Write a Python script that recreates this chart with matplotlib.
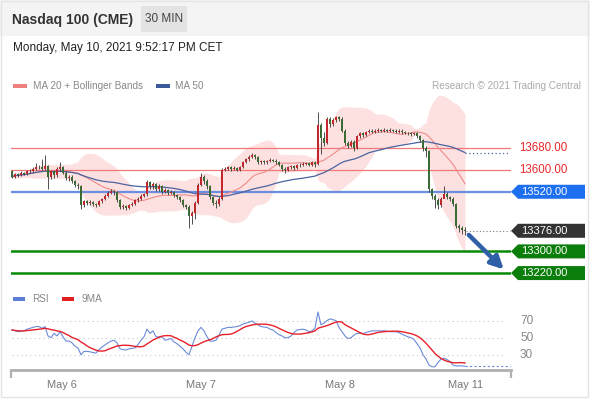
import pandas as pd
import matplotlib
matplotlib.use("Agg")
import matplotlib.pyplot as plt
from matplotlib.patches import Rectangle, Polygon, FancyArrowPatch
from matplotlib import transforms

plt.rcParams['font.family'] = ['Liberation Sans', 'DejaVu Sans']

# --- data (30 min bars, May 5 evening -> May 10 night) ---
first_open = 13598
closes = [13575, 13585, 13580, 13590, 13585, 13595, 13598, 13605, 13610, 13612,
          13605, 13615, 13575, 13595, 13580, 13605, 13612, 13590, 13570, 13575,
          13560, 13545, 13540, 13470, 13485, 13478, 13482, 13476, 13472, 13485,
          13492, 13505, 13515, 13522, 13518, 13490, 13462, 13468, 13460, 13470,
          13475, 13488, 13495, 13505, 13510, 13555, 13540, 13548, 13530, 13540,
          13520, 13528, 13515, 13520, 13508, 13500, 13490, 13470, 13465, 13430,
          13440, 13480, 13545, 13575, 13560, 13540, 13500, 13480, 13475, 13495,
          13600, 13605, 13610, 13605, 13608, 13602, 13610, 13630, 13640, 13650,
          13655, 13648, 13630, 13632, 13628, 13632, 13638, 13635, 13628, 13620,
          13605, 13600, 13610, 13615, 13608, 13618, 13620, 13622, 13625, 13620,
          13628, 13622, 13765, 13720, 13700, 13790, 13770, 13785, 13795, 13790,
          13745, 13700, 13690, 13705, 13680, 13725, 13735, 13730, 13740, 13745,
          13742, 13745, 13748, 13745, 13748, 13746, 13748, 13745, 13742, 13745,
          13740, 13738, 13735, 13732, 13735, 13725, 13710, 13680, 13670, 13530,
          13505, 13490, 13470, 13495, 13510, 13500, 13495, 13475, 13395, 13385,
          13380, 13376]
highs = [13602, 13590, 13590, 13595, 13594, 13600, 13604, 13610, 13625, 13620,
         13640, 13655, 13620, 13602, 13600, 13610, 13630, 13615, 13595, 13582,
         13580, 13565, 13552, 13545, 13490, 13490, 13488, 13486, 13480, 13490,
         13498, 13510, 13522, 13530, 13528, 13522, 13494, 13475, 13472, 13476,
         13482, 13492, 13500, 13510, 13516, 13565, 13560, 13556, 13552, 13548,
         13545, 13535, 13532, 13528, 13524, 13512, 13505, 13494, 13476, 13470,
         13448, 13486, 13552, 13590, 13580, 13566, 13545, 13506, 13488, 13500,
         13608, 13612, 13615, 13614, 13614, 13612, 13616, 13635, 13646, 13655,
         13662, 13660, 13652, 13638, 13636, 13638, 13644, 13642, 13640, 13632,
         13624, 13610, 13616, 13620, 13620, 13624, 13626, 13628, 13630, 13630,
         13634, 13632, 13816, 13772, 13740, 13797, 13795, 13792, 13800, 13798,
         13794, 13750, 13708, 13712, 13710, 13730, 13742, 13740, 13746, 13750,
         13750, 13752, 13754, 13752, 13754, 13752, 13754, 13752, 13750, 13750,
         13750, 13745, 13742, 13740, 13742, 13740, 13730, 13714, 13690, 13675,
         13535, 13512, 13496, 13500, 13540, 13518, 13505, 13500, 13480, 13400,
         13392, 13390]
lows = [13570, 13572, 13576, 13577, 13580, 13582, 13590, 13594, 13600, 13604,
        13600, 13600, 13530, 13568, 13572, 13575, 13598, 13584, 13562, 13560,
        13552, 13538, 13532, 13455, 13462, 13470, 13472, 13468, 13464, 13468,
        13480, 13488, 13500, 13510, 13508, 13484, 13455, 13456, 13452, 13455,
        13466, 13470, 13482, 13490, 13500, 13505, 13532, 13530, 13522, 13524,
        13512, 13514, 13508, 13510, 13500, 13492, 13482, 13462, 13455, 13385,
        13400, 13420, 13475, 13540, 13550, 13530, 13492, 13470, 13460, 13468,
        13490, 13596, 13600, 13598, 13600, 13596, 13598, 13606, 13625, 13635,
        13645, 13640, 13624, 13624, 13622, 13622, 13628, 13630, 13622, 13614,
        13598, 13590, 13596, 13604, 13602, 13604, 13612, 13615, 13618, 13614,
        13615, 13612, 13618, 13660, 13690, 13695, 13760, 13762, 13778, 13780,
        13740, 13692, 13680, 13684, 13672, 13676, 13720, 13722, 13725, 13735,
        13736, 13738, 13740, 13740, 13740, 13740, 13742, 13740, 13736, 13738,
        13734, 13732, 13728, 13726, 13728, 13718, 13702, 13670, 13650, 13520,
        13495, 13460, 13455, 13465, 13500, 13492, 13486, 13468, 13385, 13370,
        13365, 13362]
rsi = [59, 58, 57, 57.5, 58, 60, 61, 62, 63, 63,
       61, 63, 52, 50, 55, 52, 57, 51, 46, 46,
       44, 40, 38, 30, 34, 34, 33.5, 32.5, 32, 36,
       39, 41.5, 44, 46, 47, 44, 37, 36, 35.6, 37,
       37.5, 38, 42, 47, 51, 60, 55, 58, 51, 51,
       51, 47, 48, 49, 45, 43, 40, 37, 33, 30,
       40, 50, 58, 62, 58, 51, 46, 46, 47, 53,
       60, 61, 62, 62, 62.5, 63, 64, 66, 67, 68,
       69.5, 67, 65, 63, 62.5, 62, 60, 59, 56, 53.5,
       52, 50, 50, 52, 56, 59, 59.5, 60, 59, 57,
       58, 61, 80, 65, 67, 70, 72, 71, 70, 62,
       57, 52, 49, 50, 53, 55, 55, 55, 56, 57,
       58, 58, 58, 58, 58, 57.5, 57, 57, 57, 56,
       54, 52.5, 51, 50, 48, 43, 38, 30, 25, 18,
       16, 16, 21, 25, 26, 24.5, 22, 18, 17, 17,
       17, 16.5]

resistances = [13680, 13600]
pivot = 13520
last_price = 13376
supports = [13300, 13220]
target = 13220
rsi_levels = [70, 50, 30]
day_labels = ["May 6", "May 7", "May 8", "May 11"]
day_pos = [16.7, 63.0, 109.3, 151.3]

# --- indicators from the closes ---
c = pd.Series(closes, dtype=float)
o = c.shift(1).fillna(first_open)
ma20 = c.rolling(20, min_periods=1).mean()
sd20 = c.rolling(20, min_periods=1).std(ddof=0)
bb_up, bb_lo = ma20 + 2 * sd20, ma20 - 2 * sd20
ma50 = c.rolling(50, min_periods=1).mean()
r = pd.Series(rsi, dtype=float)
r_ma = r.rolling(9, min_periods=1).mean()
x = list(range(len(closes)))

W, H = 590, 400
fig = plt.figure(figsize=(W / 100, H / 100), dpi=100)
ov = fig.add_axes([0, 0, 1, 1])
ov.set_xlim(0, W), ov.set_ylim(H, 0), ov.axis("off")

# header
ov.add_patch(Rectangle((0, 0), W, 36, color="#f4f4f4", lw=0))
ov.add_patch(Rectangle((141, 6), 46, 26, color="#e3e3e3", lw=0))
ov.add_patch(Rectangle((0.5, 0.5), W - 3, H - 4, fill=False, ec="#e4e4e4", lw=1))
ov.text(12, 20, "Nasdaq 100 (CME)", fontsize=10, fontweight="bold", color="#333", va="center")
ov.text(164, 19.5, "30 MIN", fontsize=8.5, color="#444", va="center", ha="center")
ov.text(13, 48, "Monday, May 10, 2021 9:52:17 PM CET", fontsize=8.5, color="#222", va="center")

# legends
ov.add_patch(Rectangle((13, 84), 14, 4, color="#f08080", lw=0))
ov.text(33, 86, "MA 20 + Bollinger Bands", fontsize=7.2, color="#888", va="center")
ov.add_patch(Rectangle((156, 84), 14, 4, color="#3a5a9a", lw=0))
ov.text(175, 86, "MA 50", fontsize=7.2, color="#888", va="center")
ov.text(581, 86, "Research \u00a9 2021 Trading Central", fontsize=7.2, color="#aaa",
        va="center", ha="right")
ov.add_patch(Rectangle((13, 297), 12, 4, color="#5b7fd6", lw=0))
ov.text(32, 299, "RSI", fontsize=7.2, color="#888", va="center")
ov.add_patch(Rectangle((62, 297), 12, 4, color="#e02020", lw=0))
ov.text(81, 299, "9MA", fontsize=7.2, color="#888", va="center")

# --- price panel ---
ax = fig.add_axes([11 / W, 1 - 285 / H, 500 / W, 190 / H])
ax.set_facecolor("none")
ax.set_xlim(-1 / 3, 499 / 3)
ax.set_ylim(13176, 13877)
ax.axis("off")

ax.fill_between(x, bb_lo, bb_up, color="#fde1e1", lw=0, zorder=1)
for lv in resistances:
    ax.axhline(lv, color="#f07878", lw=0.9, zorder=2)
ax.axhline(pivot, color="#6a8ee0", lw=1.6, zorder=2)
for lv in supports:
    ax.axhline(lv, color="#078a07", lw=1.8, zorder=2)
ax.plot(x, ma20, color="#f08a8a", lw=0.8, zorder=3)
ax.plot(x, ma50, color="#4a64a0", lw=0.9, zorder=3)
ax.plot([x[-1], 166], [ma50.iloc[-1]] * 2, color="#4a64a0", lw=0.9,
        ls=(0, (1, 2)), zorder=3, clip_on=False)
ax.plot([x[-1] + 0.5, 166], [last_price] * 2, color="#777", lw=0.8,
        ls=(0, (1, 2)), zorder=3)

up = (c >= o)
body_lo = pd.concat([o, c], axis=1).min(axis=1)
body_h = (c - o).abs().clip(lower=2.5)
cols = ["#c1272d" if u else "#3b6b34" for u in up]
ax.vlines(x, lows, highs, color="#333", lw=0.6, zorder=4)
ax.bar(x, body_h, bottom=body_lo, width=0.7, color=cols, lw=0, zorder=5)

ax.add_patch(FancyArrowPatch((x[-1] + 0.6, last_price - 8), (164.6, target + 6),
                             arrowstyle="-|>", mutation_scale=19, lw=3.2,
                             color="#2f5fa7", zorder=6, clip_on=False))

# right side tags
blend = transforms.blended_transform_factory(ax.transAxes, ax.transData)
hh = 7 * (13877 - 13176) / 190


def tag(price, color):
    pts = [(1.0, price), (1.014, price + hh), (1.148, price + hh),
           (1.148, price - hh), (1.014, price - hh)]
    ax.add_patch(Polygon(pts, closed=True, color=color, lw=0, transform=blend,
                         clip_on=False, zorder=7))
    ax.text(1.021, price, f"{price:.2f}", transform=blend, fontsize=8,
            color="white", va="center", ha="left", zorder=8)


for lv in resistances:
    ax.text(1.016, lv, f"{lv:.2f}", transform=blend, fontsize=8.3,
            color="#e8282a", va="center", ha="left")
tag(pivot, "#1e6ff0")
tag(last_price, "#333333")
for lv in supports:
    tag(lv, "#0a7d0a")

# --- RSI panel ---
ra = fig.add_axes([11 / W, 1 - 370 / H, 500 / W, 65 / H])
ra.set_facecolor("none")
ra.set_xlim(-1 / 3, 499 / 3)
ra.set_ylim(12.2, 88.2)
rblend = transforms.blended_transform_factory(ra.transAxes, ra.transData)
for lv in rsi_levels:
    ra.plot([0, 164.5], [lv, lv], color="#c8c8c8", lw=0.8, ls=(0, (1, 3)))
    ra.text(1.018, lv, str(lv), transform=rblend, fontsize=8.5, color="#888", va="center")
ra.plot(x, r, color="#6a8ad8", lw=0.8)
ra.plot(x, r_ma, color="#e8202a", lw=1.0)
ra.plot([x[-1], 166], [r.iloc[-1]] * 2, color="#6a8ad8", lw=0.8, ls=(0, (2, 2)))

for s in ("top", "left", "right"):
    ra.spines[s].set_visible(False)
ra.spines["bottom"].set_color("#b0b0b0")
ra.spines["bottom"].set_linewidth(2)
ra.set_yticks([])
ra.set_xticks(day_pos, day_labels)
ra.tick_params(axis="x", length=0, pad=7, labelsize=7.9, labelcolor="#777")
ra.set_xticks([-0.2, 166.2], minor=True)
ra.tick_params(axis="x", which="minor", length=6, width=1.6, color="#b0b0b0")

fig.savefig("out.png", dpi=100)
